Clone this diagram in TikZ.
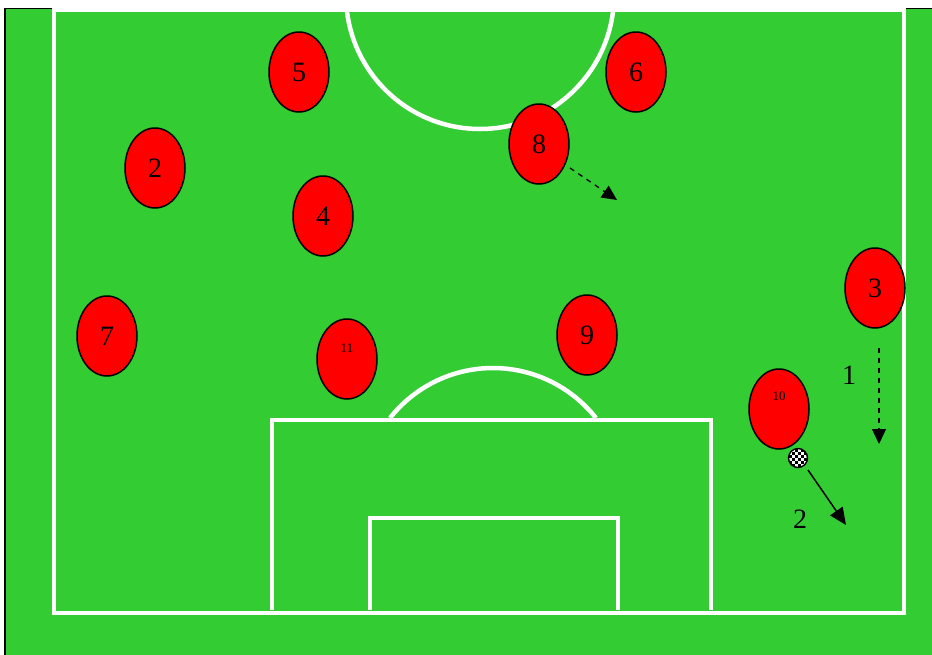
\documentclass[tikz,border=0pt]{standalone}
\usepackage{fontspec}
\setmainfont{Liberation Serif}
\usetikzlibrary{shapes.geometric,arrows.meta,calc}
\tikzset{
  player/.style={ellipse,draw=black,line width=1.5pt,fill=red,minimum width=60pt,minimum height=80pt,inner sep=0pt,font=\fontsize{28}{30}\selectfont},
  smalllabel/.style={font=\fontsize{13}{14}\selectfont,inner sep=0pt},
  numlabel/.style={font=\fontsize{28}{30}\selectfont,inner sep=0pt},
  pitchline/.style={draw=white,line width=4.5pt},
  runarrow/.style={line width=1.3pt,dashed,dash pattern=on 5pt off 5pt,-{Triangle[width=14pt,length=15pt]}},
  passarrow/.style={line width=1.5pt,-{Triangle[width=15pt,length=17pt]}},
}
\definecolor{grass}{RGB}{51,204,51}
\begin{document}
\begin{tikzpicture}[x=1pt,y=-1pt]
\useasboundingbox (0,0) rectangle (932,654);
\fill[white] (0,0) rectangle (932,654);
\begin{scope}
\clip (0,8) rectangle (932,654);
\filldraw[fill=grass,draw=black,line width=1.2pt] (5,8) rectangle (940,660);
% pitch lines
\draw[pitchline] (480,-5) circle[radius=134];
\draw[pitchline] (54,10) rectangle (904,613);
\draw[pitchline] (272,610) -- (272,420) -- (711,420) -- (711,610);
\draw[pitchline] (370,610) -- (370,518) -- (618,518) -- (618,610);
\draw[pitchline] (390,418) arc[start angle=218.2,end angle=321.8,radius=131];
\end{scope}
\fill[white] (52,0) rectangle (906,9);
% players
\node[player] (p5) at (299,72) {5};
\node[player] (p6) at (636,72) {6};
\node[player] (p2) at (155,168) {2};
\node[player] (p8) at (539,144) {8};
\node[player] (p4) at (323,216) {4};
\node[player] (p3) at (875,288) {3};
\node[player] (p7) at (107,336) {7};
\node[player] (p11) at (347,359) {};
\node[smalllabel] (t11) at (347,348) {11};
\node[player] (p9) at (587,335) {9};
\node[player] (p10) at (779,409) {};
\node[smalllabel] (t10) at (779,396) {10};
% ball
\coordinate (ball) at (798,458);
\begin{scope}
\clip (ball) circle[radius=9.5];
\fill[white] (ball) circle[radius=9.5];
\foreach \i in {-4,...,3}{
  \foreach \j in {-4,...,3}{
    \pgfmathparse{int(mod(\i+\j+8,2))}
    \ifnum\pgfmathresult=0
      \fill[black] ($(ball)+(\i*3,\j*3)$) rectangle +(3,3);
    \fi
  }
}
\end{scope}
\draw[black,line width=1.4pt] (ball) circle[radius=9.5];
% arrows
\coordinate (a8s) at (570,168);
\coordinate (a8e) at (617,200);
\draw[runarrow] (a8s) -- (a8e);
\coordinate (a3s) at (879,348);
\coordinate (a3e) at (879,444);
\draw[runarrow] (a3s) -- (a3e);
\coordinate (a2s) at (808,470);
\coordinate (a2e) at (846,525);
\draw[passarrow] (a2s) -- (a2e);
\node[numlabel] (l1) at (849,375) {1};
\node[numlabel] (l2) at (800,519) {2};
\end{tikzpicture}
\end{document}
